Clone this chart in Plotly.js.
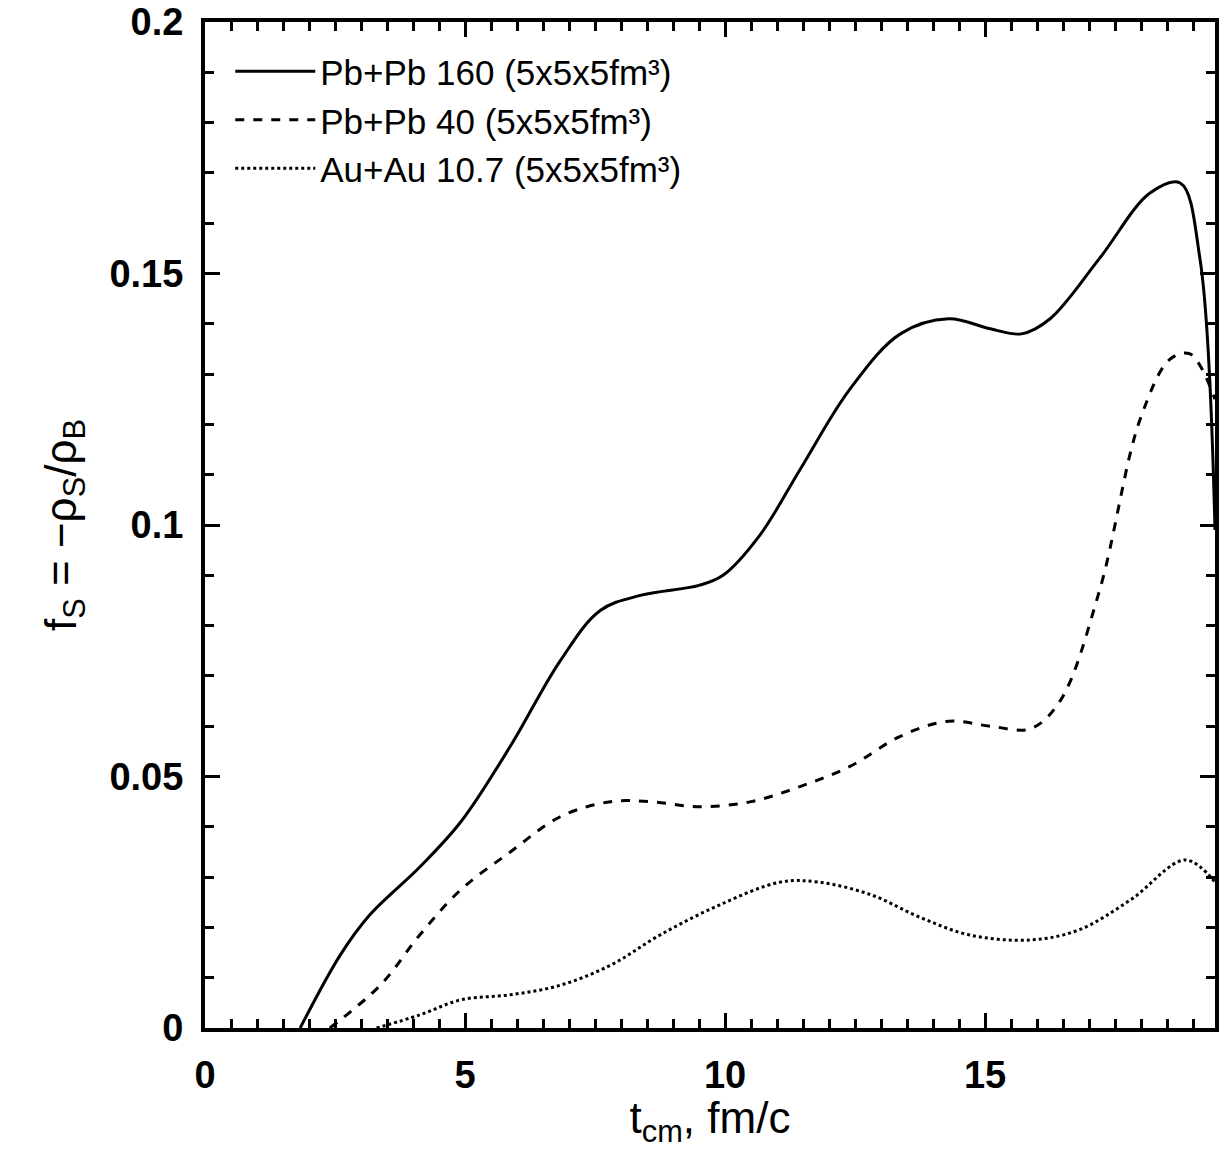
<!DOCTYPE html>
<html>
<head>
<meta charset="utf-8">
<script src="https://cdn.plot.ly/plotly-3.0.1.min.js"></script>
<style>body{margin:0;background:#fff}#chart{width:1226px;height:1149px}</style>
</head>
<body>
<div id="chart"></div>
<script>
// Pb+Pb 160
const t160 = [1.83, 2.6, 3.17, 4.13, 4.92, 5.87, 6.83, 7.6, 8.37, 9.5, 9.96, 10.67, 11.44, 12.4, 13.37, 14.3, 15.1, 15.7, 16.25, 17.2, 18.17, 18.75, 19.13, 19.42];
const f160 = [0, 0.0145, 0.0225, 0.032, 0.041, 0.056, 0.073, 0.083, 0.086, 0.088, 0.090, 0.098, 0.111, 0.127, 0.138, 0.141, 0.139, 0.138, 0.141, 0.153, 0.166, 0.168, 0.153, 0.099];
// Pb+Pb 40
const t40 = [2.4, 3.37, 4.13, 4.92, 5.87, 6.83, 7.8, 8.56, 9.5, 10.5, 11.44, 12.4, 13.37, 14.3, 15.1, 15.87, 16.44, 17.2, 17.98, 18.56, 18.94, 19.42];
const f40 = [0, 0.0085, 0.0185, 0.0275, 0.035, 0.042, 0.045, 0.045, 0.044, 0.045, 0.048, 0.052, 0.058, 0.061, 0.060, 0.0595, 0.065, 0.087, 0.121, 0.133, 0.134, 0.125];
// Au+Au 10.7
const t11 = [3.3, 4.13, 4.92, 5.87, 6.83, 7.8, 8.75, 9.9, 11.06, 11.8, 12.8, 13.75, 14.7, 15.87, 16.8, 17.8, 18.85, 19.42];
const f11 = [0, 0.0026, 0.0056, 0.0066, 0.0085, 0.0125, 0.0185, 0.0245, 0.029, 0.029, 0.0265, 0.022, 0.0185, 0.0175, 0.0195, 0.0255, 0.0334, 0.029];

const names = ["Pb+Pb 160 (5x5x5fm³)", "Pb+Pb 40 (5x5x5fm³)", "Au+Au 10.7 (5x5x5fm³)"];
const dashes = ["solid", "dash", "dot"];
const xs = [t160, t40, t11], ys = [f160, f40, f11];

const data = xs.map((x, i) => ({
  x: x, y: ys[i], name: names[i], type: "scatter", mode: "lines",
  line: {color: "#000", width: 3, dash: dashes[i], shape: "spline", smoothing: 1}
}));

const font = "Liberation Sans, Arial, sans-serif";
const axis = {
  showline: true, linecolor: "#000", linewidth: 4, mirror: "ticks",
  ticks: "inside", ticklen: 15, tickwidth: 3, tickcolor: "#000",
  showgrid: false, zeroline: false, ticklabelstandoff: 10,
  tickfont: {family: font, size: 38, color: "#000", weight: "bold"}
};

const layout = {
  width: 1226, height: 1149,
  margin: {l: 205, r: 11, t: 22, b: 121},
  paper_bgcolor: "#fff", plot_bgcolor: "#fff",
  showlegend: true,
  legend: {x: 0.025, y: 0.98, xanchor: "left", yanchor: "top", itemwidth: 80,
    font: {family: font, size: 35, color: "#000"}, bgcolor: "rgba(0,0,0,0)", tracegroupgap: 0},
  xaxis: Object.assign({}, axis, {
    range: [0, 19.42], dtick: 5, tick0: 0,
    minor: {dtick: 0.5, ticks: "inside", ticklen: 9, tickwidth: 3, tickcolor: "#000"},
    title: {text: "t<sub>cm</sub>, fm/c", font: {family: font, size: 44, color: "#000"}, standoff: 10}
  }),
  yaxis: Object.assign({}, axis, {
    range: [0, 0.2], dtick: 0.05, tick0: 0,
    minor: {dtick: 0.01, ticks: "inside", ticklen: 9, tickwidth: 3, tickcolor: "#000"},
    title: {text: "f<sub>S</sub> = −ρ<sub>S</sub>/ρ<sub>B</sub>", font: {family: font, size: 44, color: "#000"}, standoff: 20}
  })
};

Plotly.newPlot("chart", data, layout, {displayModeBar: false});
</script>
</body>
</html>
